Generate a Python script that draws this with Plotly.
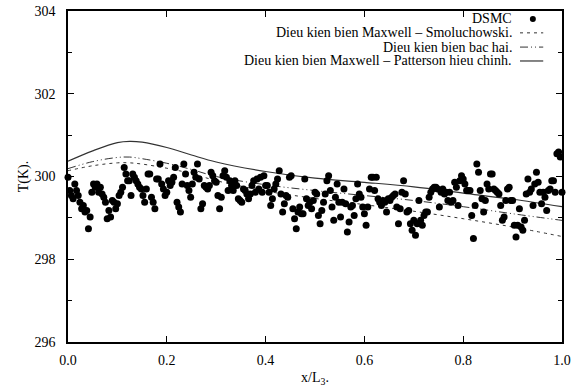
import numpy as np
import plotly.graph_objects as go

# DSMC temperature samples along the channel (K), evenly spaced in x/L3
t_dsmc = [
    299.98, 299.66, 299.54, 299.46, 299.82, 299.66, 299.54, 299.38, 299.22, 299.30,
    299.14, 299.18, 298.74, 299.02, 299.62, 299.82, 299.74, 299.82, 299.62, 299.74,
    299.58, 299.50, 299.38, 298.98, 299.18, 299.02, 299.42, 299.38, 299.22, 299.34,
    299.54, 299.62, 299.74, 300.22, 300.06, 299.90, 299.90, 299.54, 300.06, 299.98,
    299.90, 299.82, 299.74, 299.70, 299.54, 299.38, 299.70, 300.06, 300.06, 299.50,
    299.38, 299.22, 299.94, 299.94, 300.30, 299.82, 299.70, 299.54, 299.62, 299.90,
    299.78, 299.86, 299.98, 300.22, 299.38, 299.26, 299.14, 299.82, 300.30,
    300.06, 299.78, 299.66, 299.50, 299.82, 300.10, 299.98, 300.30, 299.94, 299.22,
    299.34, 299.78, 299.74, 299.70, 299.78, 300.10, 300.02, 299.90, 299.86, 299.54,
    299.22, 299.50, 300.02, 300.14, 299.98, 299.66, 299.90, 299.78, 299.66, 299.90,
    299.78, 299.46, 299.42, 299.38, 299.70, 299.66, 299.58, 299.46, 299.58, 299.78,
    299.90, 299.62, 299.94, 299.70, 299.98, 299.62, 300.02, 299.78, 299.78, 299.62,
    299.30, 299.46, 299.70, 299.82, 299.94, 300.14, 299.58, 299.14, 299.34, 299.54,
    299.50, 299.98, 300.02, 299.22, 298.98, 298.74, 299.14, 299.26, 299.10, 299.10,
    299.94, 299.46, 299.30,
    299.38, 299.22, 299.42, 299.62, 299.58, 299.06, 298.86, 299.18, 299.38, 299.58,
    299.90, 300.02, 299.66, 299.26, 298.94, 299.50, 299.82, 299.38, 299.02, 299.38,
    299.70, 299.34, 298.66, 298.90, 299.26, 299.30, 299.06, 299.46, 299.82, 299.58,
    299.50, 299.26, 299.10, 298.82, 299.26, 299.70, 299.98, 299.98, 299.66, 299.98,
    299.46, 299.38, 299.30, 299.42, 299.38, 299.14, 299.46, 299.42, 299.50, 299.54,
    299.58, 299.26, 298.86, 299.22, 299.62, 299.90, 299.58, 299.14, 299.18, 298.86,
    298.70, 298.94, 298.58, 298.86, 299.42, 298.94, 298.82, 299.06, 299.14, 299.14,
    299.50, 299.62, 299.70, 299.74,
    299.74, 299.70, 299.26, 299.62, 299.70, 299.58, 299.62, 299.42, 299.62, 299.38,
    299.42, 299.86, 299.74, 299.30, 299.90, 300.02, 299.94, 299.82, 299.66, 299.66,
    299.66, 299.06, 298.50, 299.30, 300.30, 300.10, 299.66, 299.46, 299.14, 299.42,
    299.82, 299.70, 300.06, 300.06, 299.70, 299.66, 299.62, 299.58, 299.30, 298.94,
    299.02, 299.42, 299.70, 299.74, 299.42, 299.42, 298.82, 298.54, 298.82, 299.22,
    298.78, 298.70, 298.94, 299.58, 299.94, 299.62, 299.70, 299.30, 299.82, 300.10,
    299.86, 299.62, 299.34, 299.62, 299.50, 299.18, 299.66, 299.70, 299.90, 299.90,
    299.62, 300.55, 300.59, 300.47, 299.62,
]
x_dsmc = np.linspace(0.0, 1.0, len(t_dsmc))

# Model curves
x_curve = [0.0, 0.05, 0.1, 0.125, 0.15, 0.2, 0.25, 0.3, 0.4, 0.5, 0.6, 0.7, 0.8, 0.9, 1.0]
t_maxwell_smol = [300.14, 300.26, 300.33, 300.33, 300.30, 300.20, 300.07, 299.90, 299.65,
                  299.47, 299.32, 299.16, 298.98, 298.78, 298.55]
t_bac_hai = [300.19, 300.36, 300.46, 300.47, 300.43, 300.32, 300.17, 300.00, 299.80,
             299.66, 299.54, 299.42, 299.27, 299.10, 298.94]
t_patterson = [300.37, 300.62, 300.82, 300.85, 300.83, 300.70, 300.52, 300.35, 300.12,
               299.96, 299.86, 299.75, 299.60, 299.45, 299.27]

x_ticks = [0.0, 0.2, 0.4, 0.6, 0.8, 1.0]
y_ticks = [296, 298, 300, 302, 304]

legend_labels = [
    "DSMC",
    "Dieu kien bien Maxwell \u2013 Smoluchowski.",
    "Dieu kien bien bac hai.",
    "Dieu kien bien Maxwell \u2013 Patterson hieu chinh.",
]

FONT = "'Liberation Serif', 'Times New Roman', 'DejaVu Serif', serif"
LINE_COL = "#333333"
DASH_SMOL = "3px,4px"
DASH_BAC = "8px,3px,1px,3px,1px,3px"

fig = go.Figure()
fig.add_trace(go.Scatter(x=x_curve, y=t_maxwell_smol, mode="lines", line_shape="spline",
                         line=dict(color=LINE_COL, width=1, dash=DASH_SMOL)))
fig.add_trace(go.Scatter(x=x_curve, y=t_bac_hai, mode="lines", line_shape="spline",
                         line=dict(color=LINE_COL, width=1, dash=DASH_BAC)))
fig.add_trace(go.Scatter(x=x_curve, y=t_patterson, mode="lines", line_shape="spline",
                         line=dict(color=LINE_COL, width=1.2)))
fig.add_trace(go.Scatter(x=x_dsmc, y=t_dsmc, mode="markers",
                         marker=dict(color="black", size=7, line=dict(width=0)),
                         cliponaxis=False))

# Key in the upper right: right-aligned labels followed by the line sample
key_y = [0.976, 0.934, 0.891, 0.849]
text_x = 0.902
for lab, ky in zip(legend_labels, key_y):
    fig.add_annotation(x=text_x, y=ky, xref="paper", yref="paper", text=lab,
                       showarrow=False, xanchor="right", yanchor="middle",
                       font=dict(family=FONT, size=14, color="black"))
fig.add_shape(type="circle", xref="paper", yref="paper", xsizemode="pixel", ysizemode="pixel",
              xanchor=0.941, yanchor=key_y[0], x0=-3, x1=3, y0=-3, y1=3,
              fillcolor="black", line=dict(width=0))
for ky, dash, w in zip(key_y[1:], [DASH_SMOL, DASH_BAC, "solid"], [1, 1, 1.2]):
    fig.add_shape(type="line", xref="paper", yref="paper", x0=0.915, x1=0.962, y0=ky, y1=ky,
                  line=dict(color=LINE_COL, width=w, dash=dash))

axis_common = dict(showline=True, linecolor="black", linewidth=1.5, mirror="ticks",
                   ticks="inside", tickcolor="black", ticklen=6, tickwidth=1,
                   showgrid=False, zeroline=False, automargin=False,
                   tickfont=dict(family=FONT, size=14, color="black"))

fig.update_xaxes(range=[0, 1], tickvals=x_ticks, tickformat=".1f",
                 title=dict(text="x/L<sub>3</sub>.", font=dict(family=FONT, size=14, color="black"),
                            standoff=6),
                 ticklabelstandoff=4, **axis_common)
fig.update_yaxes(range=[296, 304], tickvals=y_ticks,
                 minor=dict(tickvals=[297, 299, 301, 303], ticks="inside", ticklen=4,
                            tickcolor="black"),
                 title=dict(text="T(K).", font=dict(family=FONT, size=14, color="black"),
                            standoff=3),
                 ticklabelstandoff=8, **axis_common)

fig.update_layout(width=581, height=388, margin=dict(l=68, r=19, t=11, b=46),
                  paper_bgcolor="white", plot_bgcolor="white", showlegend=False,
                  font=dict(family=FONT, color="black"))

fig.write_html("out.html")
